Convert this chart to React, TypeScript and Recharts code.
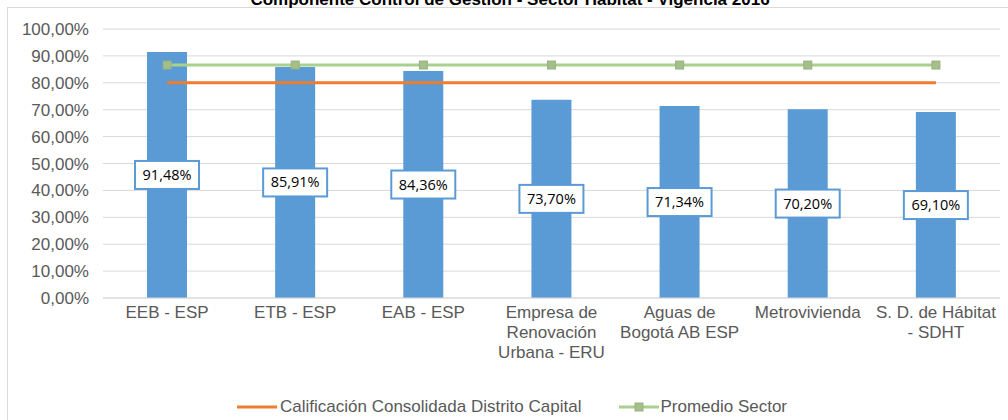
import React from 'react';
import {
  ComposedChart,
  Bar,
  Line,
  XAxis,
  YAxis,
  CartesianGrid,
  LabelList,
} from 'recharts';

const entidades = [
  'EEB - ESP',
  'ETB - ESP',
  'EAB - ESP',
  'Empresa de\nRenovación\nUrbana - ERU',
  'Aguas de\nBogotá AB ESP',
  'Metrovivienda',
  'S. D. de Hábitat\n- SDHT',
];
const calificaciones = [0.9148, 0.8591, 0.8436, 0.737, 0.7134, 0.702, 0.691];
const consolidadaDistrito = [0.8, 0.8, 0.8, 0.8, 0.8, 0.8, 0.8];
const promedioSector = [0.866, 0.866, 0.866, 0.866, 0.866, 0.866, 0.866];
const yTicks = [0, 0.1, 0.2, 0.3, 0.4, 0.5, 0.6, 0.7, 0.8, 0.9, 1];

const TITLE = 'Componente Control de Gestión - Sector Hábitat - Vigencia 2016';
const BLUE = '#5B9BD5';
const ORANGE = '#ED7D31';
const GREEN = '#A9D18E';
const GRID = '#D9D9D9';
const TXT = '#595959';
const FONT = '"Liberation Sans", Arial, sans-serif';

const data = entidades.map((name, i) => ({
  name,
  valor: calificaciones[i],
  distrito: consolidadaDistrito[i],
  promedio: promedioSector[i],
}));

const pct = (v: number) => (v * 100).toFixed(2).replace('.', ',') + '%';

const CategoryTick = (props: any) => {
  const { x, y, payload } = props;
  const lines = String(payload.value).split('\n');
  return (
    <text x={x} y={y} textAnchor="middle" fill={TXT} fontSize={17} fontFamily={FONT}>
      {lines.map((l, i) => (
        <tspan key={i} x={x} dy={i === 0 ? 12 : 20}>
          {l}
        </tspan>
      ))}
    </text>
  );
};

const BoxLabel = (props: any) => {
  const { x, y, width, height, value } = props;
  const cx = x + width / 2;
  const cy = y + height / 2;
  return (
    <g>
      <rect x={cx - 32} y={cy - 14} width={64} height={28} fill="#fff" stroke={BLUE} strokeWidth={2} />
      <text
        x={cx}
        y={cy + 5}
        textAnchor="middle"
        fontSize={14.5}
        fontFamily='"Open Sans", sans-serif'
        fill="#000"
      >
        {pct(value)}
      </text>
    </g>
  );
};

const SquareDot = (props: any) => {
  const { cx, cy } = props;
  return <rect x={cx - 4} y={cy - 4} width={8} height={8} fill="#A5BF8C" stroke="#97B27D" strokeWidth={1} />;
};

export default function App() {
  return (
    <div
      style={{
        position: 'absolute',
        left: 0,
        top: 0,
        width: 1008,
        height: 420,
        overflow: 'hidden',
        background: '#fff',
        fontFamily: FONT,
      }}
    >
      <div style={{ position: 'absolute', left: 7, top: 7, right: -2, bottom: -2, border: `1px solid ${GRID}` }} />
      <div
        style={{
          position: 'absolute',
          top: -9,
          left: 0,
          width: 1020,
          textAlign: 'center',
          fontSize: 17,
          lineHeight: '18px',
          fontWeight: 'bold',
          color: '#000',
        }}
      >
        {TITLE}
      </div>
      <div style={{ position: 'absolute', left: 0, top: 0 }}>
        <ComposedChart width={1008} height={420} data={data} margin={{ top: 29, right: 8, left: 8, bottom: 42 }}>
          <CartesianGrid vertical={false} stroke={GRID} />
          <XAxis
            dataKey="name"
            interval={0}
            height={80}
            tickLine={false}
            axisLine={{ stroke: GRID }}
            tick={<CategoryTick />}
          />
          <YAxis
            width={95}
            domain={[0, 1]}
            ticks={yTicks}
            tickFormatter={pct}
            tickLine={false}
            axisLine={false}
            tickMargin={8}
            tick={{ fill: TXT, fontSize: 17, fontFamily: FONT }}
          />
          <Bar dataKey="valor" fill={BLUE} barSize={40} isAnimationActive={false}>
            <LabelList dataKey="valor" content={<BoxLabel />} />
          </Bar>
          <Line
            dataKey="distrito"
            stroke={ORANGE}
            strokeWidth={3}
            dot={false}
            activeDot={false}
            isAnimationActive={false}
          />
          <Line
            dataKey="promedio"
            stroke={GREEN}
            strokeWidth={3}
            dot={<SquareDot />}
            activeDot={false}
            isAnimationActive={false}
          />
        </ComposedChart>
      </div>
      <div
        style={{
          position: 'absolute',
          top: 397,
          left: 237,
          display: 'flex',
          alignItems: 'center',
          fontSize: 17,
          lineHeight: '20px',
          color: TXT,
        }}
      >
        <svg width={43} height={20}>
          <line x1={0} y1={10} x2={40} y2={10} stroke={ORANGE} strokeWidth={3} />
        </svg>
        <span>Calificación Consolidada Distrito Capital</span>
        <svg width={41} height={20} style={{ marginLeft: 38 }}>
          <line x1={0} y1={10} x2={40} y2={10} stroke={GREEN} strokeWidth={3} />
          <rect x={16} y={6} width={8} height={8} fill="#A5BF8C" stroke="#97B27D" strokeWidth={1} />
        </svg>
        <span>Promedio Sector</span>
      </div>
    </div>
  );
}
